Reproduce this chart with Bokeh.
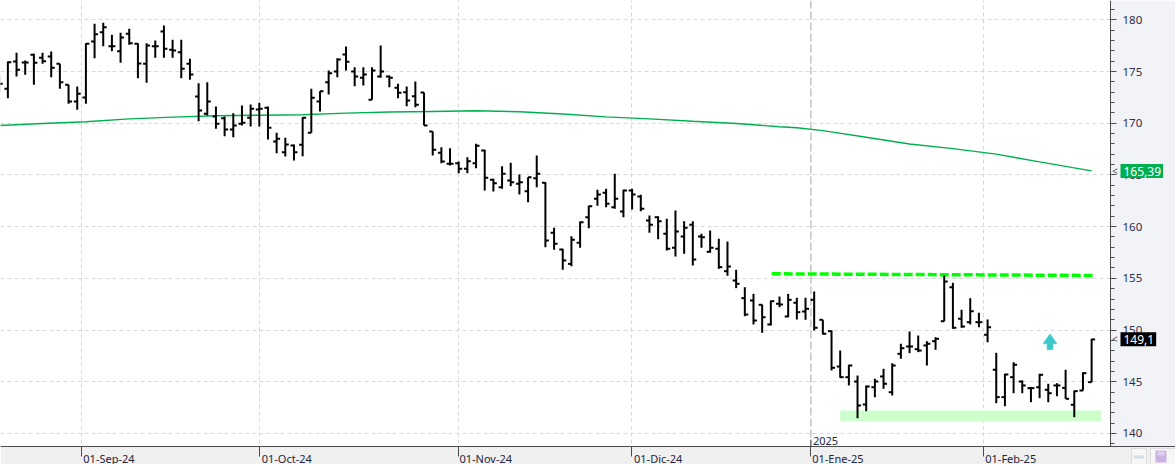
import numpy as np
from bokeh.plotting import figure
from bokeh.models import (ColumnDataSource, Range1d, SingleIntervalTicker, FixedTicker,
                          Label, Span, BoxAnnotation)
from bokeh.embed import file_html
from bokeh.resources import INLINE

# ---------------- data ----------------
highs = [174.62, 175.97, 176.81, 176.07, 176.72, 176.81, 176.94, 175.75, 173.72, 173.55,
         177.74, 179.62, 179.71, 178.55, 178.75, 179.13, 177.74, 177.74, 178.00, 179.45,
         178.07, 178.07, 176.23, 173.87, 173.97, 171.62, 170.65, 170.97, 171.72, 171.81,
         171.98, 171.62, 169.08, 168.59, 167.94, 170.58, 173.33, 173.10, 175.10, 176.29,
         177.42, 175.42, 175.42, 175.42, 177.52, 174.62, 173.81, 173.55, 174.04, 172.97,
         169.20, 167.68, 167.59, 166.30, 166.72, 168.01, 167.43, 164.63, 165.85, 166.17,
         165.04, 164.78, 166.88, 164.30, 159.89, 157.86, 159.07, 160.50, 162.02, 163.56,
         163.66, 165.11, 163.56, 163.66, 163.08, 161.08, 161.01, 160.76, 161.56, 160.53,
         160.53, 159.31, 159.63, 158.82, 158.56, 155.83, 154.14, 153.50, 152.47, 152.86,
         153.24, 153.50, 153.12, 153.12, 153.73, 150.99, 149.96, 148.02, 146.64, 145.60,
         144.64, 145.29, 146.25, 146.79, 148.67, 149.86, 149.47, 148.92, 149.31, 155.27,
         154.57, 151.96, 153.08, 151.67, 151.02, 147.80, 145.77, 146.89, 145.12, 144.47,
         145.77, 144.80, 144.86, 146.16, 144.15, 145.92, 149.15]
lows = [172.97, 172.42, 174.52, 174.68, 173.72, 175.75, 174.45, 173.33, 171.88, 171.30,
        171.88, 176.29, 177.45, 176.97, 175.85, 177.59, 174.36, 173.91, 176.33, 176.33,
        176.33, 174.36, 174.20, 170.20, 170.75, 169.46, 168.75, 168.65, 169.78, 169.68,
        169.68, 168.43, 167.10, 166.78, 166.40, 166.81, 169.08, 171.14, 172.78, 174.45,
        175.10, 173.58, 173.65, 172.27, 174.39, 173.49, 172.42, 171.65, 171.55, 169.78,
        166.88, 166.14, 165.91, 165.17, 165.17, 165.65, 163.49, 163.40, 163.66, 163.91,
        163.11, 162.36, 163.81, 158.01, 157.76, 155.83, 156.17, 157.95, 159.85, 162.02,
        161.88, 161.73, 160.91, 161.66, 161.49, 159.40, 158.79, 157.69, 157.11, 157.37,
        156.24, 157.95, 157.47, 155.92, 155.25, 154.05, 151.34, 150.54, 149.73, 150.44,
        152.21, 151.24, 151.02, 150.99, 149.96, 149.57, 146.09, 145.38, 144.64, 141.47,
        142.15, 143.50, 144.32, 143.67, 147.22, 147.76, 147.86, 146.57, 148.09, 150.85,
        150.12, 150.22, 150.54, 150.27, 148.82, 142.92, 142.63, 143.89, 143.89, 143.02,
        143.41, 143.02, 143.60, 143.35, 141.57, 144.15, 144.96]
opens = [173.81, 173.33, 175.97, 175.87, 176.62, 176.33, 176.45, 175.75, 173.72, 172.10,
         172.49, 177.90, 178.80, 177.45, 176.97, 178.65, 177.68, 175.75, 177.45, 178.87,
         177.10, 176.87, 175.75, 172.59, 170.91, 170.65, 170.49, 169.39, 169.95, 170.53,
         171.33, 171.49, 168.23, 167.20, 167.85, 167.91, 169.08, 172.10, 173.97, 175.00,
         176.65, 175.00, 174.39, 172.27, 174.52, 174.52, 173.43, 173.00, 172.62, 172.97,
         169.20, 167.14, 166.08, 166.14, 165.59, 166.14, 167.36, 164.53, 163.81, 164.46,
         164.14, 163.43, 164.68, 164.24, 159.40, 157.79, 156.40, 158.44, 160.91, 162.69,
         163.27, 161.88, 161.46, 163.49, 162.91, 160.59, 160.91, 159.31, 157.95, 159.05,
         160.18, 159.05, 157.57, 157.86, 155.69, 154.79, 153.08, 152.86, 152.44, 150.54,
         152.54, 151.31, 152.64, 151.79, 152.92, 150.99, 149.89, 146.47, 145.44, 145.02,
         142.80, 144.47, 145.51, 143.99, 147.70, 148.41, 148.15, 148.51, 148.92, 150.85,
         154.14, 151.09, 150.76, 150.76, 149.54, 146.16, 143.51, 145.44, 145.02, 144.38,
         144.47, 144.22, 144.64, 144.41, 142.77, 144.15, 144.96]
closes = [173.81, 175.90, 175.17, 175.87, 175.85, 176.00, 175.36, 173.97, 172.10, 172.85,
          177.68, 178.61, 179.29, 177.45, 178.29, 177.74, 175.78, 177.52, 177.45, 177.20,
          177.03, 175.26, 174.71, 171.23, 172.10, 169.95, 169.39, 169.78, 170.04, 171.40,
          171.40, 169.56, 168.49, 167.94, 167.20, 170.53, 172.46, 173.10, 174.84, 176.16,
          175.94, 174.52, 174.71, 175.10, 175.00, 174.39, 172.94, 172.20, 171.78, 169.78,
          167.43, 166.30, 166.08, 165.59, 166.33, 167.82, 164.72, 164.20, 165.11, 164.30,
          164.30, 164.78, 165.11, 158.66, 158.34, 156.73, 158.73, 160.43, 161.98, 163.11,
          162.21, 162.69, 163.49, 163.11, 161.73, 160.18, 160.53, 157.86, 159.53, 159.89,
          156.82, 158.98, 157.95, 156.08, 156.14, 154.47, 151.50, 150.92, 151.24, 152.79,
          152.47, 152.92, 151.73, 152.05, 150.22, 149.64, 146.35, 145.44, 146.57, 142.70,
          144.54, 145.02, 144.80, 146.57, 148.24, 148.41, 148.02, 148.67, 149.15, 154.69,
          150.22, 150.34, 151.82, 150.76, 150.27, 143.51, 145.70, 146.64, 144.64, 144.38,
          145.67, 143.89, 144.64, 143.35, 144.09, 145.83, 149.09]

ma_idx = [0, 5, 10, 15, 20, 25, 30, 35, 40, 45, 50, 55, 60, 65, 70, 75, 80, 85, 90,
          92, 95, 100, 105, 110, 115, 120, 125, 126]
ma_val = [169.78, 169.97, 170.14, 170.42, 170.59, 170.73, 170.77, 170.82, 170.98, 171.09,
          171.14, 171.21, 171.11, 170.89, 170.62, 170.42, 170.19, 169.98, 169.66, 169.56,
          169.29, 168.65, 167.99, 167.54, 167.01, 166.26, 165.54, 165.39]

month_pos = [9.55, 30.06, 53.01, 72.9, 93.62, 113.56]
month_labels = ["01-Sep-24", "01-Oct-24", "01-Nov-24", "01-Dic-24", "01-Ene-25", "01-Feb-25"]
year_pos = 93.62
year_label = "2025"

resist_x = [89.1, 126.1]
resist_y = [155.44, 155.28]
support_x = [97.0, 127.1]
support_y = [141.18, 142.22]
ma_last = 165.39
ma_last_text = "165,39"
close_last = 149.1
close_last_text = "149,1"
arrow_x = 121.2
arrow_tip = 149.64

FONT = "Noto Sans"

# ---------------- scales ----------------
BAR_PX = 8.67        # pixels per bar
VAL_PX = 10.34       # pixels per price unit
W, H = 1175, 464
AXIS_PX_X = 1110     # right price axis position
AXIS_PX_Y = 446      # bottom date axis position
x0 = 0.15
y_top = 181.87
x_range = Range1d(x0, x0 + W / BAR_PX)
y_range = Range1d(y_top - H / VAL_PX, y_top)
axis_x = x0 + AXIS_PX_X / BAR_PX
axis_y = y_top - AXIS_PX_Y / VAL_PX

p = figure(frame_width=W, frame_height=H, x_range=x_range, y_range=y_range,
           output_backend="svg", toolbar_location=None,
           x_axis_location="below", y_axis_location="right",
           min_border=0, min_border_left=0, min_border_right=0,
           min_border_top=0, min_border_bottom=0,
           background_fill_color="white", border_fill_color="#f1f2f5",
           outline_line_color=None)

# panel backgrounds (price axis strip and date strip)
p.add_layout(BoxAnnotation(left=axis_x, fill_color="#f2f3f7", fill_alpha=1.0,
                           line_color=None, level="glyph"))
p.add_layout(BoxAnnotation(top=axis_y, fill_color="#f0f0f0", fill_alpha=1.0,
                           line_color=None, level="glyph"))

# right price axis
ya = p.yaxis[0]
ya.fixed_location = axis_x
ya.bounds = (axis_y, y_top)
ya.ticker = SingleIntervalTicker(interval=5, num_minor_ticks=5)
ya.major_tick_out = 6
ya.major_tick_in = 0
ya.minor_tick_out = 4
ya.minor_tick_in = 0
ya.major_label_standoff = 6
ya.axis_line_color = "#4a4a4a"
ya.major_tick_line_color = "#4a4a4a"
ya.minor_tick_line_color = "#4a4a4a"
ya.major_label_text_font = FONT
ya.major_label_text_font_size = "11.5px"
ya.major_label_text_color = "#2d2d4d"

# bottom date axis: month marks as minor ticks, left-aligned labels as (hidden) major ticks
label_shift = 27 / BAR_PX
label_centers = [round(m + label_shift, 2) for m in month_pos]
xa = p.xaxis[0]
xa.fixed_location = axis_y
xa.ticker = FixedTicker(ticks=label_centers, minor_ticks=month_pos)
xa.major_label_overrides = {c: t for c, t in zip(label_centers, month_labels)}
xa.major_tick_line_color = None
xa.major_tick_out = 10
xa.major_tick_in = 0
xa.minor_tick_out = 10
xa.minor_tick_in = 0
xa.minor_tick_line_color = "#4a4a4a"
xa.axis_line_color = "#4a4a4a"
xa.major_label_standoff = -6
xa.major_label_text_font = FONT
xa.major_label_text_font_size = "11px"
xa.major_label_text_color = "#25253a"

# grids
p.ygrid.ticker = SingleIntervalTicker(interval=5)
p.ygrid.grid_line_color = "#d9d9d9"
p.ygrid.grid_line_dash = "4 3"
p.xgrid.ticker = FixedTicker(ticks=[m for m in month_pos if m != year_pos])
p.xgrid.grid_line_color = "#d9d9d9"
p.xgrid.grid_line_dash = "4 3"

# year separator
p.add_layout(Span(location=year_pos, dimension="height", line_color="#c4c4c4",
                  line_width=1.5, line_dash="8 3", level="underlay"))
p.segment(x0=[year_pos], y0=[axis_y], x1=[year_pos], y1=[axis_y + 7 / VAL_PX],
          line_color="#4a4a4a", line_width=1)
p.add_layout(Label(x=year_pos, y=axis_y + 6 / VAL_PX, x_offset=2, text=year_label,
                   text_font=FONT, text_font_size="11px", text_color="#25253a",
                   text_baseline="alphabetic", text_align="left"))

# support zone
p.add_layout(BoxAnnotation(left=support_x[0], right=support_x[1],
                           bottom=support_y[0], top=support_y[1],
                           fill_color="#ccffcc", fill_alpha=1.0, line_color=None,
                           level="underlay"))

# moving average
p.line(ma_idx, ma_val, line_color="#00b050", line_width=1.4)

# resistance
p.line(resist_x, resist_y, line_color="#00ff00", line_width=3.5, line_dash="9 3")

# OHLC bars
x = np.arange(len(highs))
tick = 0.4
src = ColumnDataSource(dict(x=x, h=highs, l=lows, o=opens, c=closes,
                            xl=x - tick, xr=x + tick))
p.segment("x", "h", "x", "l", source=src, line_color="black", line_width=2)
p.segment("xl", "o", "x", "o", source=src, line_color="black", line_width=2)
p.segment("x", "c", "xr", "c", source=src, line_color="black", line_width=2)

# cyan arrow
hw, hh, sw, sh = 7 / BAR_PX, 10 / VAL_PX, 2.9 / BAR_PX, 16 / VAL_PX
p.patch([arrow_x, arrow_x + hw, arrow_x + sw, arrow_x + sw, arrow_x - sw, arrow_x - sw, arrow_x - hw],
        [arrow_tip, arrow_tip - hh, arrow_tip - hh, arrow_tip - sh, arrow_tip - sh, arrow_tip - hh, arrow_tip - hh],
        fill_color="#3cc8c8", line_color="#3cc8c8", line_width=0.5)

# value labels on price axis
for val, txt, bg in [(ma_last, ma_last_text, "#00b050"), (close_last, close_last_text, "#000000")]:
    p.add_layout(Label(x=axis_x + 10 / BAR_PX, y=val, text=txt,
                       text_color="white", text_font=FONT, text_font_size="12px",
                       text_baseline="middle", background_fill_color=bg,
                       padding=(3, 2, 3, 2)))
    p.add_layout(Label(x=axis_x + 1.5 / BAR_PX, y=val, text="<",
                       text_color="#555555", text_font=FONT, text_font_size="10px",
                       text_baseline="middle"))

# small toolbar icons in the bottom-right corner
def sbox(l, r, b, t, **kw):
    p.add_layout(BoxAnnotation(left=l, right=r, bottom=b, top=t,
                               left_units="screen", right_units="screen",
                               bottom_units="screen", top_units="screen", **kw))

sbox(1131, 1146, 0, 16, fill_color="white", line_color="#a8a8b0", line_width=1)
sbox(1150, 1176, 0, 16, fill_color="white", line_color="#a8a8b0", line_width=1)
sbox(1155, 1166, 2, 14, fill_color="#8a4fc8", line_color=None)
sbox(1157, 1164, 9, 13, fill_color="white", line_color=None)
sbox(1133.5, 1143.5, 6, 9, fill_color="#9ec3e6", line_color=None)

open("out.html", "w").write(file_html(p, INLINE))
